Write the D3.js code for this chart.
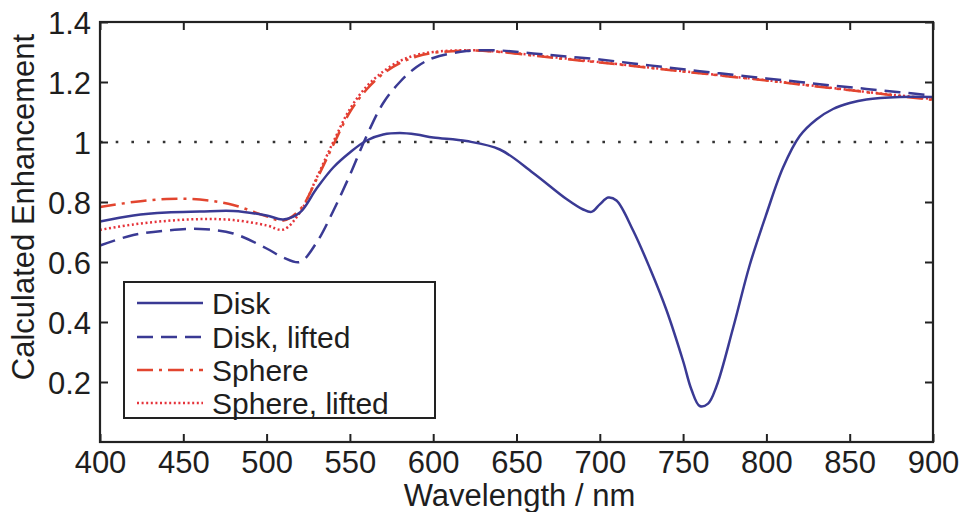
<!DOCTYPE html>
<html>
<head>
<meta charset="utf-8">
<script src="https://cdn.jsdelivr.net/npm/d3@7"></script>
<style>
  html, body { margin: 0; padding: 0; background: #fff; }
  svg { display: block; }
  text { font-family: "Liberation Sans", Arial, Helvetica, sans-serif; fill: #1e1e1e; }
</style>
</head>
<body>
<svg id="chart" width="964" height="512"></svg>
<script>
// ---- data ----
const wlDisk = [400,420,440,460,480,500,510,520,530,540,550,560,570,580,590,600,620,640,660,680,690,695,700,705,710,720,730,740,750,755,760,765,770,780,790,800,810,820,830,840,850,860,880,900];
const disk   = [0.735,0.755,0.765,0.768,0.77,0.755,0.742,0.765,0.845,0.915,0.965,1.005,1.025,1.03,1.025,1.015,1.003,0.975,0.897,0.81,0.775,0.767,0.792,0.815,0.805,0.705,0.58,0.44,0.27,0.175,0.12,0.128,0.185,0.38,0.59,0.76,0.915,1.02,1.075,1.11,1.13,1.142,1.15,1.15];

const wl = [400,420,440,460,480,500,510,520,530,540,550,560,570,580,590,600,620,640,660,680,700,720,740,760,780,800,820,840,860,880,900];
const diskLifted   = [0.655,0.69,0.705,0.71,0.695,0.645,0.615,0.60,0.665,0.77,0.89,1.02,1.13,1.20,1.25,1.28,1.303,1.305,1.295,1.285,1.275,1.262,1.249,1.236,1.224,1.212,1.2,1.188,1.177,1.166,1.155];
const sphere       = [0.783,0.80,0.81,0.808,0.79,0.752,0.738,0.775,0.875,0.99,1.10,1.175,1.228,1.263,1.285,1.297,1.305,1.30,1.288,1.276,1.265,1.253,1.241,1.229,1.217,1.205,1.192,1.179,1.166,1.153,1.14];
const sphereLifted = [0.707,0.725,0.737,0.743,0.74,0.722,0.708,0.765,0.88,1.0,1.11,1.185,1.235,1.27,1.29,1.30,1.306,1.301,1.29,1.278,1.266,1.254,1.242,1.23,1.218,1.206,1.193,1.18,1.167,1.155,1.143];

const seriesNames = ["Disk", "Disk, lifted", "Sphere", "Sphere, lifted"];
const xTicks = [400,450,500,550,600,650,700,750,800,850,900];
const yTicks = [0.2,0.4,0.6,0.8,1.0,1.2,1.4];
const refLevel = 1.0;

// ---- layout ----
const L = 100, R = 933, T = 22, B = 442;
const svg = d3.select("#chart");
const x = d3.scaleLinear().domain([400, 900]).range([L, R]);
const y = d3.scaleLinear().domain([0, 1.4]).range([B, T]);

const blue = "#3a3a94", red = "#e2452f", red2 = "#e5333a";
const styles = [
  { color: blue, width: 2.5, dash: null },
  { color: blue, width: 2.5, dash: "16,8" },
  { color: red,  width: 2.5, dash: "16,6,3,6" },
  { color: red2, width: 2.5, dash: "2,2.6" }
];
const seriesData = [
  wlDisk.map((w, i) => [w, disk[i]]),
  wl.map((w, i) => [w, diskLifted[i]]),
  wl.map((w, i) => [w, sphere[i]]),
  wl.map((w, i) => [w, sphereLifted[i]])
];

// reference dotted line at 1
svg.append("line")
  .attr("x1", x(400)).attr("x2", x(900))
  .attr("y1", y(refLevel)).attr("y2", y(refLevel))
  .attr("stroke", "#333").attr("stroke-width", 2.6)
  .attr("stroke-dasharray", "2.6,13.1");

const line = d3.line().x(d => x(d[0])).y(d => y(d[1])).curve(d3.curveCatmullRom.alpha(0.5));
[3, 2, 1, 0].forEach(i => {
  const s = styles[i];
  svg.append("path")
    .datum(seriesData[i])
    .attr("d", line)
    .attr("fill", "none")
    .attr("stroke", s.color)
    .attr("stroke-width", s.width)
    .attr("stroke-dasharray", s.dash);
});

// axes (inward ticks)
const fmtY = d => d === 1 ? "1" : d3.format(".1f")(d);
const axB = svg.append("g").attr("transform", `translate(0,${B})`)
  .call(d3.axisBottom(x).tickValues(xTicks).tickSize(-8).tickSizeOuter(0).tickPadding(9).tickFormat(d3.format("d")));
const axL = svg.append("g").attr("transform", `translate(${L},0)`)
  .call(d3.axisLeft(y).tickValues(yTicks).tickSize(-8).tickSizeOuter(0).tickPadding(9).tickFormat(fmtY));
const axT = svg.append("g").attr("transform", `translate(0,${T})`)
  .call(d3.axisTop(x).tickValues(xTicks).tickSize(-8).tickSizeOuter(0).tickFormat(""));
const axR = svg.append("g").attr("transform", `translate(${R},0)`)
  .call(d3.axisRight(y).tickValues(yTicks).tickSize(-8).tickSizeOuter(0).tickFormat(""));
[axB, axL, axT, axR].forEach(g => {
  g.select(".domain").remove();
  g.selectAll(".tick line").attr("stroke", "#222").attr("stroke-width", 2);
  g.selectAll(".tick text").attr("font-size", 31).attr("fill", "#1e1e1e")
    .style("font-family", '"Liberation Sans", Arial, sans-serif');
});
axL.selectAll(".tick text").attr("dy", "0.38em");

// box
svg.append("rect")
  .attr("x", L).attr("y", T).attr("width", R - L).attr("height", B - T)
  .attr("fill", "none").attr("stroke", "#222").attr("stroke-width", 2.2);

// axis titles
svg.append("text")
  .attr("x", (L + R) / 2 + 3).attr("y", 506)
  .attr("text-anchor", "middle").attr("font-size", 31)
  .text("Wavelength / nm");
svg.append("text")
  .attr("transform", "translate(34,207) rotate(-90)")
  .attr("text-anchor", "middle").attr("font-size", 31)
  .text("Calculated Enhancement");

// legend
const lg = svg.append("g");
lg.append("rect").attr("x", 124).attr("y", 282).attr("width", 311).attr("height", 136)
  .attr("fill", "#fff").attr("stroke", "#222").attr("stroke-width", 2);
const rowY = [303, 337, 370, 403];
seriesNames.forEach((name, i) => {
  const s = styles[i];
  lg.append("line").attr("x1", 137).attr("x2", 203).attr("y1", rowY[i]).attr("y2", rowY[i])
    .attr("stroke", s.color).attr("stroke-width", s.width).attr("stroke-dasharray", s.dash);
  lg.append("text").attr("x", 212).attr("y", rowY[i]).attr("dy", "0.36em")
    .attr("font-size", 30).text(name);
});
</script>
</body>
</html>
